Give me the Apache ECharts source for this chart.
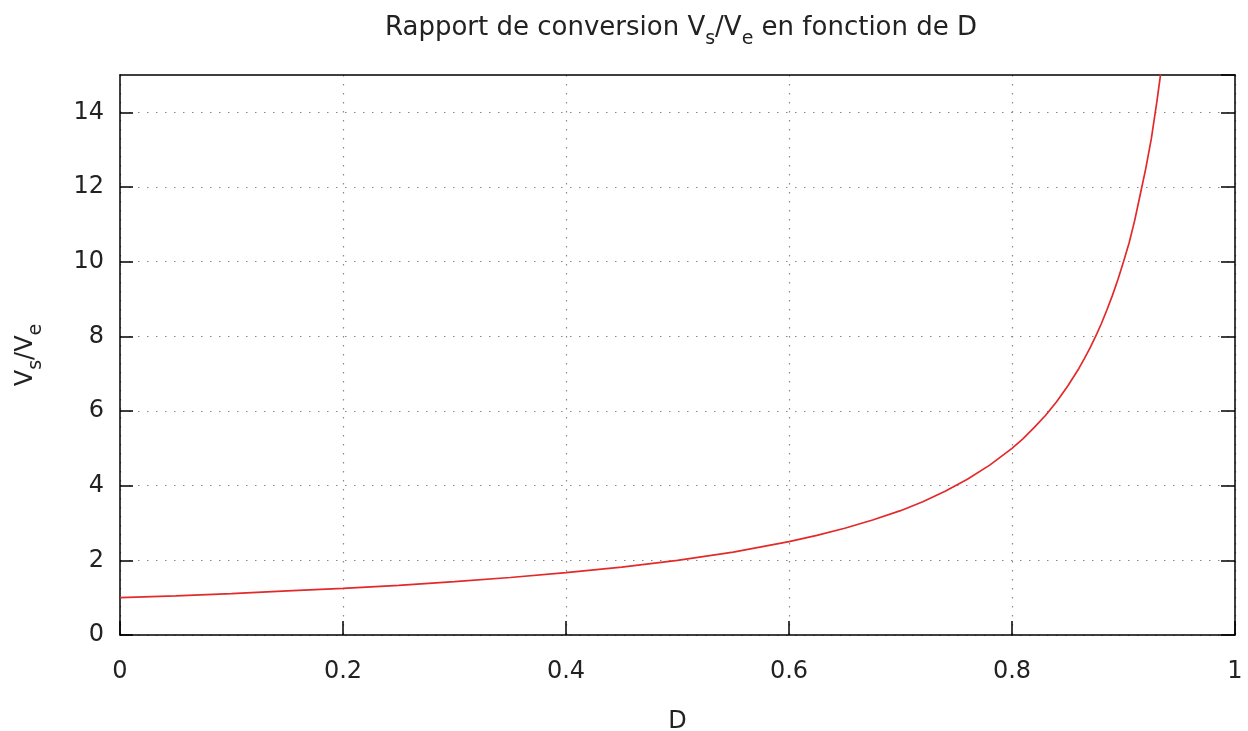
<!DOCTYPE html>
<html>
<head>
<meta charset="utf-8">
<script src="https://cdn.jsdelivr.net/npm/echarts@6/dist/echarts.min.js"></script>
<style>
  html, body { margin: 0; padding: 0; background: #fff; }
  #main { width: 1248px; height: 731px; }
</style>
</head>
<body>
<div id="main"></div>
<script>
// valeurs
var dutyCycle = [0, 0.05, 0.1, 0.15, 0.2, 0.25, 0.3, 0.35, 0.4, 0.45, 0.5, 0.55, 0.6, 0.625, 0.65, 0.675, 0.7, 0.72, 0.74, 0.76, 0.78, 0.8,
    0.81, 0.82, 0.83, 0.84, 0.85, 0.86, 0.865, 0.87, 0.875, 0.88, 0.885, 0.89, 0.895, 0.9, 0.905, 0.91, 0.915, 0.92, 0.925, 0.93, 0.935];
var ratio = [1.00, 1.05, 1.11, 1.18, 1.25, 1.33, 1.43, 1.54, 1.67, 1.82, 2.00, 2.22, 2.50, 2.67, 2.86, 3.08, 3.33, 3.57, 3.85, 4.17, 4.55, 5.00,
    5.26, 5.56, 5.88, 6.25, 6.67, 7.14, 7.41, 7.69, 8.00, 8.33, 8.70, 9.09, 9.52, 10.0, 10.5, 11.1, 11.8, 12.5, 13.3, 14.3, 15.4];
var xTicks = [0, 0.2, 0.4, 0.6, 0.8, 1];
var yTicks = [0, 2, 4, 6, 8, 10, 12, 14];

var font = 'DejaVu Sans';
var gridDots = { color: '#888', width: 1.2, type: [1.5, 7.5] };
var sub = { fontFamily: font, fontSize: 19, color: '#222', verticalAlign: 'bottom', padding: [0, 0, -8, 0] };
var axisBlack = { color: '#000', width: 1.5 };

var option = {
    backgroundColor: '#fff',
    title: {
        text: 'Rapport de conversion V{s|s}/V{s|e} en fonction de D',
        left: 380,
        top: 10,
        textStyle: {
            fontFamily: font,
            fontSize: 26,
            fontWeight: 'normal',
            color: '#222',
            rich: { s: sub }
        }
    },
    grid: { left: 120, right: 13, top: 75, bottom: 96, containLabel: false, outerBoundsMode: 'none' },
    xAxis: [
        {
            type: 'value',
            min: 0,
            max: 1,
            interval: 0.2,
            name: 'D',
            nameLocation: 'middle',
            nameGap: 75,
            nameTextStyle: { fontFamily: font, fontSize: 24, color: '#222' },
            axisLine: { show: true, onZero: false, lineStyle: axisBlack },
            axisTick: { show: true, inside: true, length: 14, lineStyle: axisBlack },
            axisLabel: {
                margin: 25,
                fontFamily: font,
                fontSize: 24,
                color: '#222',
                formatter: function (v) { return xTicks.indexOf(+v.toFixed(1)) >= 0 ? String(+v.toFixed(1)) : ''; }
            },
            splitLine: { show: true, lineStyle: gridDots }
        },
        {
            type: 'value',
            position: 'top',
            min: 0,
            max: 1,
            interval: 0.2,
            axisLine: { show: true, onZero: false, lineStyle: axisBlack },
            axisTick: { show: false },
            axisLabel: { show: false },
            splitLine: { show: false }
        }
    ],
    yAxis: [
        {
            type: 'value',
            position: 'left',
            min: 0,
            max: 15,
            interval: 2,
            name: 'V{s|s}/V{s|e}',
            nameLocation: 'middle',
            nameRotate: 90,
            nameGap: 82,
            nameTextStyle: { fontFamily: font, fontSize: 24, color: '#222', rich: { s: sub } },
            axisLine: { show: true, onZero: false, lineStyle: axisBlack },
            axisTick: { show: true, inside: true, length: 13, lineStyle: axisBlack },
            axisLabel: {
                margin: 16,
                fontFamily: font,
                fontSize: 24,
                color: '#222',
                showMaxLabel: false,
                formatter: function (v) { return yTicks.indexOf(v) >= 0 ? v : ''; }
            },
            splitLine: {
                show: true,
                lineStyle: gridDots,
                showMaxLine: false
            }
        },
        {
            type: 'value',
            position: 'right',
            min: 0,
            max: 15,
            interval: 2,
            axisLine: { show: true, onZero: false, lineStyle: axisBlack },
            axisTick: { show: true, inside: true, length: 14, lineStyle: axisBlack },
            axisLabel: { show: false },
            splitLine: { show: false }
        }
    ],
    series: [
        {
            type: 'line',
            data: dutyCycle.map(function (d, i) { return [d, ratio[i]]; }),
            smooth: false,
            showSymbol: false,
            clip: true,
            lineStyle: { color: '#e32a2a', width: 1.7 },
            silent: true
        }
    ],
    animation: false
};

var mychart = echarts.init(document.getElementById('main'));
mychart.setOption(option);
window.addEventListener('resize', function () {
    mychart.resize();
});
</script>
</body>
</html>
